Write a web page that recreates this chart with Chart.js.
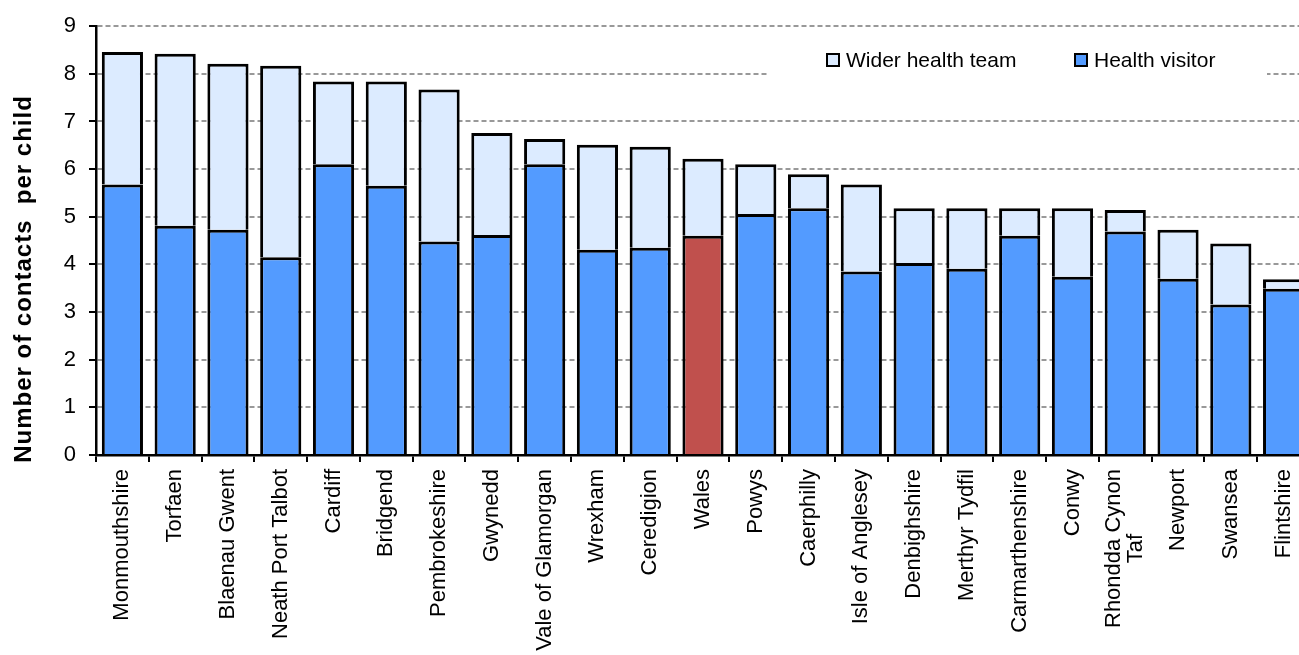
<!DOCTYPE html>
<html>
<head>
<meta charset="utf-8">
<script src="https://cdn.jsdelivr.net/npm/chart.js@4.4.0/dist/chart.umd.min.js"></script>
<style>
    html, body { margin: 0; padding: 0; overflow: hidden; background: #fff; }
    #wrap { position: relative; width: 1310px; height: 680px; }
</style>
</head>
<body>
<div id="wrap"><canvas id="myChart"></canvas></div>
<script>
const categories = ['Monmouthshire', 'Torfaen', 'Blaenau Gwent', 'Neath Port Talbot', 'Cardiff',
    'Bridgend', 'Pembrokeshire', 'Gwynedd', 'Vale of Glamorgan', 'Wrexham', 'Ceredigion', 'Wales',
    'Powys', 'Caerphilly', 'Isle of Anglesey', 'Denbighshire', 'Merthyr Tydfil', 'Carmarthenshire',
    'Conwy', ['Rhondda Cynon', 'Taf'], 'Newport', 'Swansea', 'Flintshire'];

const healthVisitor = [5.68, 4.81, 4.73, 4.15, 6.10, 5.65, 4.48, 4.62, 6.10, 4.31, 4.35, 4.60,
    5.06, 5.18, 3.85, 4.03, 3.91, 4.60, 3.74, 4.69, 3.70, 3.16, 3.49];

const widerTeam = [2.78, 3.61, 3.48, 4.02, 1.74, 2.19, 3.19, 2.14, 0.53, 2.20, 2.12, 1.62,
    1.04, 0.71, 1.83, 1.15, 1.27, 0.58, 1.44, 0.45, 1.03, 1.28, 0.20];

const yTicks = [0, 1, 2, 3, 4, 5, 6, 7, 8, 9];

const legendLabels = ['Wider health team', 'Health visitor'];

const blue = '#539BFF';
const lightBlue = '#DCEBFF';
const red = '#C0504D';
const fontFamily = "'Liberation Sans', Arial, sans-serif";

Chart.defaults.font.family = fontFamily;
Chart.defaults.color = '#000';

// legend, rotated x labels and axis title drawn by hand
const extras = {
    id: 'extras',
    beforeDatasetsDraw(chart) {
        // legend sits on a white box that breaks the gridline at 8
        const ctx = chart.ctx;
        ctx.save();
        ctx.fillStyle = '#fff';
        ctx.fillRect(767, 40, 500, 45);
        ctx.restore();
    },
    afterDraw(chart) {
        const ctx = chart.ctx;
        const xs = chart.scales.x;
        const area = chart.chartArea;
        ctx.save();

        ctx.font = '21px ' + fontFamily;
        ctx.textBaseline = 'middle';
        ctx.textAlign = 'left';
        const legendX = [827, 1075];
        const fills = [lightBlue, blue];
        legendLabels.forEach((lbl, i) => {
            ctx.fillStyle = fills[i];
            ctx.fillRect(legendX[i], 54, 12, 12);
            ctx.strokeStyle = '#000';
            ctx.lineWidth = 2;
            ctx.strokeRect(legendX[i], 54, 12, 12);
            ctx.fillStyle = '#000';
            ctx.fillText(lbl, legendX[i] + 19, 61);
        });

        // category labels, lines centred on each other
        ctx.font = '22px ' + fontFamily;
        categories.forEach((c, i) => {
            const lines = Array.isArray(c) ? c : [c];
            const px = xs.getPixelForValue(i);
            const maxW = Math.max(...lines.map(l => ctx.measureText(l).width));
            ctx.save();
            ctx.translate(px, area.bottom + 14);
            ctx.rotate(-Math.PI / 2);
            ctx.textAlign = 'center';
            lines.forEach((l, j) => {
                ctx.fillText(l, -maxW / 2, (j - (lines.length - 1) / 2) * 22);
            });
            ctx.restore();
        });

        ctx.font = 'bold 24px ' + fontFamily;
        ctx.letterSpacing = '1px';
        ctx.textAlign = 'center';
        ctx.translate(24, 279);
        ctx.rotate(-Math.PI / 2);
        ctx.fillText('Number of contacts  per child', 0, 0);
        ctx.restore();
    }
};

const ctx = document.getElementById('myChart').getContext('2d');

const chart = new Chart(ctx, {
    type: 'bar',
    data: {
        labels: categories,
        datasets: [{
            label: 'Health visitor',
            data: healthVisitor,
            backgroundColor: categories.map(c => c === 'Wales' ? red : blue),
            borderColor: '#000',
            borderWidth: { top: 3, left: 3, right: 3, bottom: 0 },
            borderSkipped: false
        }, {
            label: 'Wider health team',
            data: widerTeam,
            backgroundColor: lightBlue,
            borderColor: '#000',
            borderWidth: { top: 3, left: 3, right: 3, bottom: 0 },
            borderSkipped: false
        }]
    },
    options: {
        responsive: true,
        maintainAspectRatio: false,
        animation: false,
        barPercentage: 0.78,
        categoryPercentage: 1,
        layout: { padding: { top: 23, left: 0, right: 0, bottom: 0 } },
        plugins: {
            legend: { display: false },
            tooltip: { enabled: false }
        },
        scales: {
            x: {
                stacked: true,
                afterFit: s => { s.height = 225; },
                ticks: { display: false },
                grid: {
                    drawOnChartArea: false,
                    offset: true,
                    tickLength: 7,
                    color: '#000',
                    lineWidth: 2
                },
                border: { color: '#000', width: 2.5 }
            },
            y: {
                stacked: true,
                min: 0,
                max: 9,
                afterFit: s => { s.width = 96; },
                afterBuildTicks: s => { s.ticks = yTicks.map(v => ({ value: v })); },
                ticks: {
                    padding: 13,
                    font: { size: 22 },
                    color: '#000'
                },
                grid: {
                    color: '#999999',
                    lineWidth: 2,
                    tickLength: 7,
                    tickColor: '#000',
                    tickWidth: 2
                },
                border: { color: '#000', width: 2.5, dash: [5, 3] }
            }
        }
    },
    plugins: [extras]
});
</script>
</body>
</html>
